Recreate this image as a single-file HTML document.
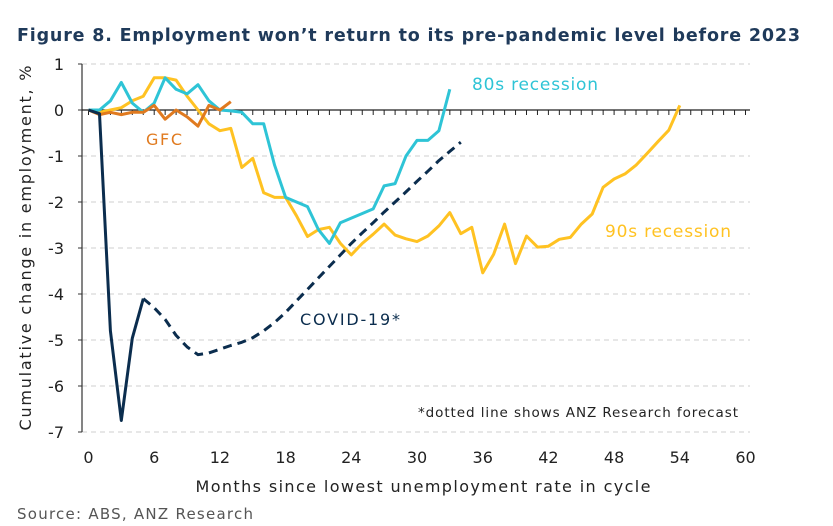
<!DOCTYPE html>
<html><head><meta charset="utf-8"><style>
body{margin:0;background:#fff;}
svg{display:block;font-family:"DejaVu Sans","Liberation Sans",sans-serif;}
</style></head><body>
<svg id="c" width="833" height="526" viewBox="0 0 833 526">
<text x="17" y="41" font-size="17.5" font-weight="bold" fill="#1f3a5a" textLength="783" lengthAdjust="spacing">Figure 8. Employment won’t return to its pre-pandemic level before 2023</text>
<g id="grid"></g>
<g id="axes"></g>
<g id="series"></g>
<text x="31" y="248" font-size="16" fill="#222" transform="rotate(-90 31 248)" text-anchor="middle" textLength="365" lengthAdjust="spacing">Cumulative  change  in  employment,  %</text>
<text x="423" y="492" font-size="16" fill="#222" text-anchor="middle" textLength="455" lengthAdjust="spacing">Months since lowest unemployment  rate in cycle</text>
<text x="17" y="519" font-size="15" fill="#555" textLength="236" lengthAdjust="spacing">Source: ABS, ANZ Research</text>
<text x="472" y="90" font-size="17" fill="#2ec4d6" textLength="126" lengthAdjust="spacing">80s recession</text>
<text x="605" y="237" font-size="17" fill="#ffc222" textLength="126" lengthAdjust="spacing">90s recession</text>
<text x="146" y="145" font-size="16" fill="#e07a1f" textLength="36" lengthAdjust="spacing">GFC</text>
<text x="300" y="325" font-size="16" fill="#0b2d4e" textLength="100" lengthAdjust="spacing">COVID-19*</text>
<text x="418" y="417" font-size="13.5" fill="#222" textLength="320" lengthAdjust="spacing">*dotted line shows ANZ Research forecast</text>
</svg>
<script>
const xTicks=[0,6,12,18,24,30,36,42,48,54,60];
const yTicks=[1,0,-1,-2,-3,-4,-5,-6,-7];
const s80=[0,0,0.2,0.6,0.15,-0.05,0.15,0.7,0.45,0.35,0.55,0.2,0.0,-0.02,-0.05,-0.3,-0.3,-1.2,-1.9,-2.0,-2.1,-2.6,-2.9,-2.45,-2.35,-2.25,-2.15,-1.65,-1.6,-1.0,-0.66,-0.66,-0.45,0.45];
const s90=[0,-0.05,0,0.05,0.2,0.3,0.7,0.7,0.65,0.3,0,-0.3,-0.45,-0.4,-1.25,-1.05,-1.8,-1.9,-1.9,-2.3,-2.75,-2.6,-2.55,-2.9,-3.15,-2.9,-2.7,-2.48,-2.72,-2.8,-2.86,-2.74,-2.52,-2.23,-2.69,-2.55,-3.54,-3.14,-2.48,-3.34,-2.74,-2.98,-2.96,-2.81,-2.77,-2.48,-2.26,-1.68,-1.5,-1.39,-1.2,-0.95,-0.69,-0.44,0.1];
const sGFC=[0,-0.1,-0.05,-0.1,-0.05,-0.05,0.1,-0.2,0,-0.15,-0.35,0.1,0,0.18];
const covidActual=[0,-0.08,-4.8,-6.75,-4.96,-4.1];
const covidForecast=[-4.1,-4.3,-4.55,-4.9,-5.15,-5.32,-5.28,-5.2,-5.12,-5.05,-4.95,-4.8,-4.62,-4.4,-4.15,-3.9,-3.65,-3.4,-3.15,-2.9,-2.67,-2.45,-2.22,-2.0,-1.78,-1.55,-1.33,-1.1,-0.9,-0.7];
const covidForecastStart=5;
const NS='http://www.w3.org/2000/svg';
const X=m=>88.5+m*10.95, Y=v=>110-v*46;
function mk(t,a,p){const e=document.createElementNS(NS,t);for(const k in a)e.setAttribute(k,a[k]);p.appendChild(e);return e;}
const grid=document.getElementById('grid'),axes=document.getElementById('axes'),ser=document.getElementById('series');
yTicks.forEach(v=>{
 if(v!==0){const l=mk('line',{x1:82,x2:750,y1:Y(v),y2:Y(v),stroke:'#cfcfcf','stroke-dasharray':'5,4','stroke-width':1},grid);
 
 }
 const tk=mk('line',{x1:78,x2:82,y1:Y(v),y2:Y(v),stroke:'#333'},axes);
 
 
 const t=mk('text',{x:64,y:Y(v)+6,'font-size':16,'text-anchor':'end',fill:'#222'},axes);t.textContent=v;
 
 
});
const ya=mk('line',{x1:82,x2:82,y1:Y(1),y2:Y(-7),stroke:'#333','stroke-width':1.2},axes);


const xa=mk('line',{x1:82,x2:750,y1:Y(0),y2:Y(0),stroke:'#222','stroke-width':1.2},axes);


for(let m=0;m<=60;m++){const tk=mk('line',{x1:X(m),x2:X(m),y1:Y(0),y2:Y(0)+5,stroke:'#222'},axes);
 
 }
xTicks.forEach(m=>{const t=mk('text',{x:X(m),y:463,'font-size':16,'text-anchor':'middle',fill:'#222'},axes);t.textContent=m;
 
 });
function line(arr,start,color,name,dash){
 const d=arr.map((v,i)=>(i?'L':'M')+X(start+i).toFixed(1)+','+Y(v).toFixed(1)).join('');
 const a={d:d,fill:'none',stroke:color,'stroke-width':3,'stroke-linejoin':'round'};
 if(dash)a['stroke-dasharray']=dash;
 const p=mk('path',a,ser);
 
 
}
line(s90,0,'#ffc222','line-90s-recession');
line(s80,0,'#2ec4d6','line-80s-recession');
line(sGFC,0,'#e07a1f','line-gfc');
line(covidForecast,covidForecastStart,'#0b2d4e','line-covid-forecast','9,6');
line(covidActual,0,'#0b2d4e','line-covid-actual');
</script>
</body></html>
